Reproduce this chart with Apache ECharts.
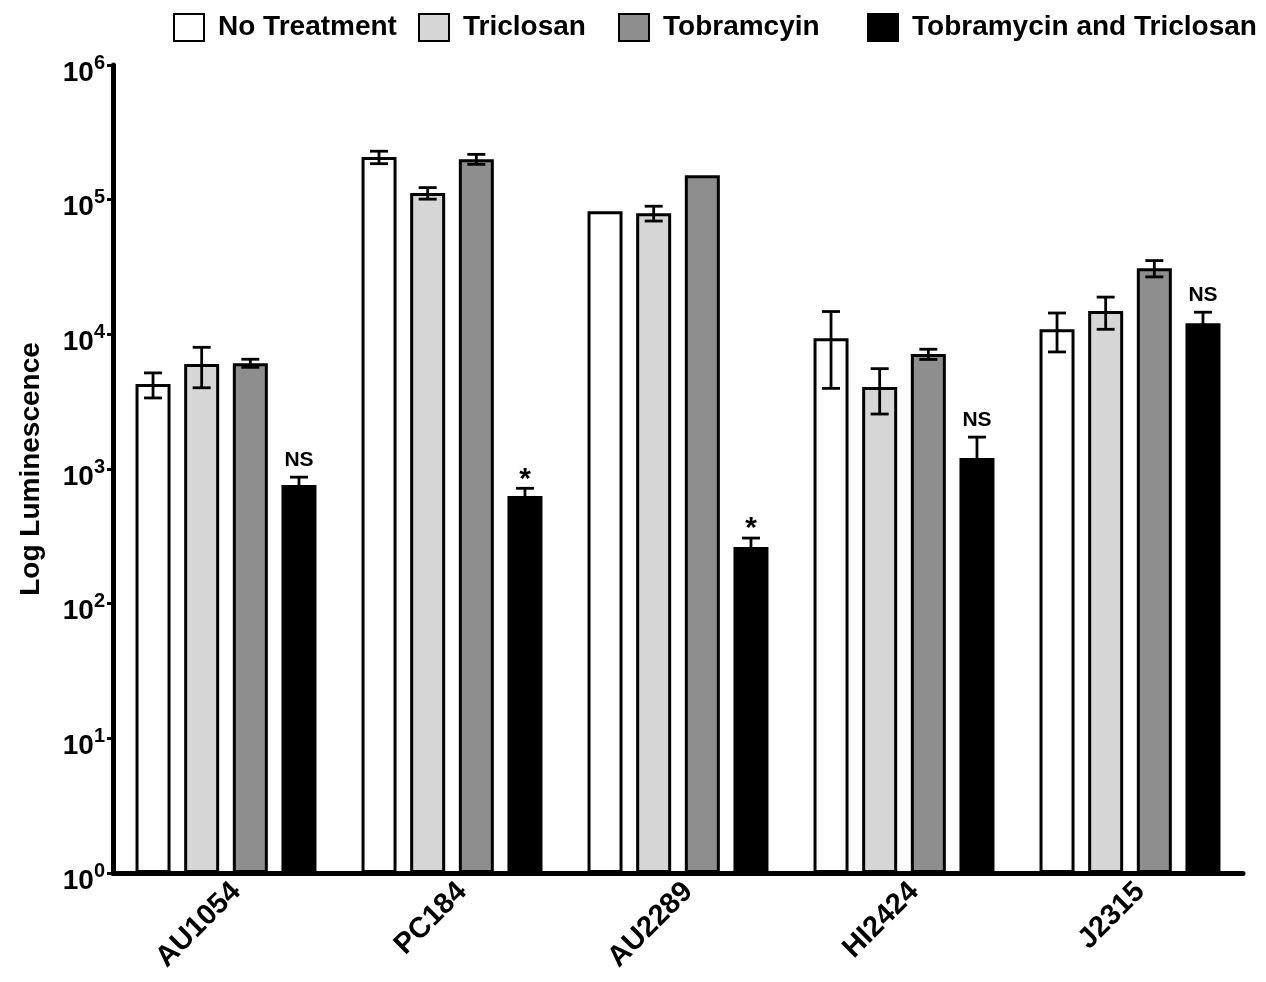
<!DOCTYPE html>
<html>
<head>
<meta charset="utf-8">
<script src="https://cdn.jsdelivr.net/npm/echarts@6/dist/echarts.min.js"></script>
<style>
html,body{margin:0;padding:0;background:#fff;}
#chart{width:1266px;height:982px;}
</style>
</head>
<body>
<div id="chart"></div>
<script>
// ---- data ----
const categories = ['AU1054', 'PC184', 'AU2289', 'HI2424', 'J2315'];
const seriesNames = ['No Treatment', 'Triclosan', 'Tobramcyin', 'Tobramycin and Triclosan'];
const noTreatment = [4270, 207000, 82200, 9370, 10900];
const noTreatmentErr = [900, 22000, 0, 5400, 3500];
const triclosan = [6010, 111900, 79400, 4060, 14900];
const triclosanErr = [2000, 11000, 10000, 1500, 4000];
const tobramycin = [6110, 200000, 152000, 7130, 31000];
const tobramycinErr = [420, 17000, 0, 620, 4300];
const combination = [760, 629, 263, 1205, 12100];
const combinationErr = [110, 90, 44, 520, 2500];
const significance = ['NS', '*', '*', 'NS', 'NS'];
const yTickExponents = [0, 1, 2, 3, 4, 5, 6];

// ---- styling ----
const FONT = '"Liberation Sans", Arial, Helvetica, sans-serif';
const colors = ['#ffffff', '#d6d6d6', '#8e8e8e', '#000000'];
const BAR_W = 35;
const GAP_RATIO = 0.39;

const means = [noTreatment, triclosan, tobramycin, combination];
const errs = [noTreatmentErr, triclosanErr, tobramycinErr, combinationErr];

const chart = echarts.init(document.getElementById('chart'), null, {renderer: 'canvas'});

function makeRender(k) {
  return function (params, api) {
    const i = api.value(0);
    const m = api.value(1);
    const e = api.value(2);
    const offset = (k - 1.5) * (BAR_W + BAR_W * GAP_RATIO);
    const c = api.coord([i, m]);
    const x = c[0] + offset;
    const children = [];
    let topY = c[1];
    const capHalf = 9;
    const ls = {stroke: '#000', lineWidth: 2.8};
    if (e > 0) {
      topY = api.coord([i, m + e])[1];
      const botY = api.coord([i, m - e])[1];
      children.push({type: 'line', shape: {x1: x, y1: topY, x2: x, y2: botY}, style: ls});
      children.push({type: 'line', shape: {x1: x - capHalf, y1: topY, x2: x + capHalf, y2: topY}, style: ls});
      children.push({type: 'line', shape: {x1: x - capHalf, y1: botY, x2: x + capHalf, y2: botY}, style: ls});
    }
    if (k === 3) {
      const s = significance[i];
      const star = s === '*';
      children.push({
        type: 'text',
        style: {
          text: s, x: x, y: topY - (star ? -6 : 6),
          align: 'center', verticalAlign: 'bottom',
          fill: '#000',
          font: 'bold ' + (star ? 30 : 21) + 'px ' + FONT
        }
      });
    }
    return {type: 'group', children: children};
  };
}

const series = [];
seriesNames.forEach(function (name, k) {
  series.push({
    name: name,
    type: 'bar',
    data: means[k],
    barWidth: BAR_W,
    barGap: (GAP_RATIO * 100) + '%',
    itemStyle: {color: colors[k], borderColor: '#000', borderWidth: 3},
    emphasis: {disabled: true},
    animation: false
  });
});
seriesNames.forEach(function (name, k) {
  series.push({
    type: 'custom',
    clip: false,
    silent: true,
    animation: false,
    renderItem: makeRender(k),
    encode: {x: 0, y: 1},
    data: categories.map(function (c, i) { return [i, means[k][i], errs[k][i]]; }),
    z: 5
  });
});

const legendLefts = [173, 418, 618, 867];
const legends = seriesNames.map(function (name, k) {
  return {
    data: [name],
    left: legendLefts[k],
    top: 13,
    padding: 0,
    icon: 'rect',
    itemWidth: 30,
    itemHeight: 27,
    selectedMode: false,
    textStyle: {fontFamily: FONT, fontWeight: 'bold', fontSize: 28, color: '#000', padding: [0, 0, 0, 9]}
  };
});

const option = {
  backgroundColor: '#fff',
  animation: false,
  legend: legends,
  grid: {left: 113, right: 23, top: 65, bottom: 109, containLabel: false},
  xAxis: {
    type: 'category',
    data: categories,
    axisLine: {onZero: false, lineStyle: {color: '#000', width: 5}},
    axisTick: {alignWithLabel: true, length: 7, lineStyle: {color: '#000', width: 3}},
    axisLabel: {rotate: 45, margin: 4, verticalAlign: 'top', color: '#000', fontFamily: FONT, fontWeight: 'bold', fontSize: 29},
    splitLine: {show: false}
  },
  yAxis: {
    type: 'log',
    logBase: 10,
    min: Math.pow(10, yTickExponents[0]),
    max: Math.pow(10, yTickExponents[yTickExponents.length - 1]),
    name: 'Log Luminescence',
    nameLocation: 'middle',
    nameGap: 68,
    nameTextStyle: {fontFamily: FONT, fontWeight: 'bold', fontSize: 28, color: '#000'},
    axisLine: {show: true, lineStyle: {color: '#000', width: 5}},
    axisTick: {show: true, length: 6, lineStyle: {color: '#000', width: 3}},
    splitLine: {show: false},
    axisLabel: {
      margin: 8,
      padding: [16, 0, 0, 0],
      formatter: function (v) {
        const n = Math.round(Math.log10(v));
        return '{b|10}{s|' + n + '}';
      },
      rich: {
        b: {fontFamily: FONT, fontWeight: 'bold', fontSize: 28, color: '#000'},
        s: {fontFamily: FONT, fontWeight: 'bold', fontSize: 20, color: '#000', padding: [0, 0, 20, 0]}
      }
    }
  },
  series: series
};
chart.setOption(option);
</script>
</body>
</html>
